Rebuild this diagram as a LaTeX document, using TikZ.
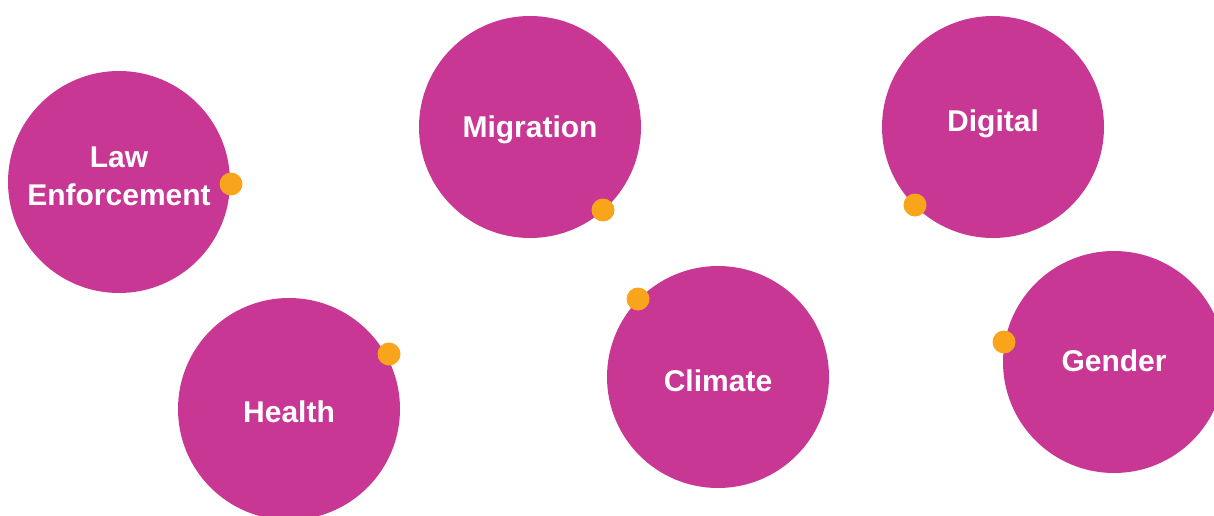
\documentclass[tikz,border=0pt]{standalone}
\usepackage{fontspec}
\setmainfont{Liberation Sans}
\definecolor{mag}{HTML}{C83793}
\definecolor{dotc}{HTML}{F8A51B}
\begin{document}
\begin{tikzpicture}[x=1pt,y=-1pt,
  topic/.style={circle,fill=mag,minimum size=222pt,inner sep=0pt},
  lbl/.style={text=white,font=\bfseries\fontsize{30}{38}\selectfont,align=center},
  marker/.style={circle,fill=dotc,minimum size=23pt,inner sep=0pt}]
\useasboundingbox (0,0) rectangle (1214,516);
\begin{scope}
\clip (0,0) rectangle (1214,516);
\node[topic] (law) at (119,182) {};
\node[topic] (mig) at (530,127) {};
\node[topic] (dig) at (993,127) {};
\node[topic] (hea) at (289,409) {};
\node[topic] (cli) at (718,377) {};
\node[topic] (gen) at (1114,362) {};
\end{scope}
\node[lbl] (tlaw) at (119,176) {Law\\Enforcement};
\node[lbl] (tmig) at (530,130) {Migration};
\node[lbl] (tdig) at (993,124) {Digital};
\node[lbl] (thea) at (289,412) {Health};
\node[lbl] (tcli) at (718,381) {Climate};
\node[lbl] (tgen) at (1114,361) {Gender};
\node[marker] (d1) at (231,184) {};
\node[marker] (d2) at (603,210) {};
\node[marker] (d3) at (915,205) {};
\node[marker] (d4) at (389,354) {};
\node[marker] (d5) at (638,299) {};
\node[marker] (d6) at (1004,342) {};
\end{tikzpicture}
\end{document}
